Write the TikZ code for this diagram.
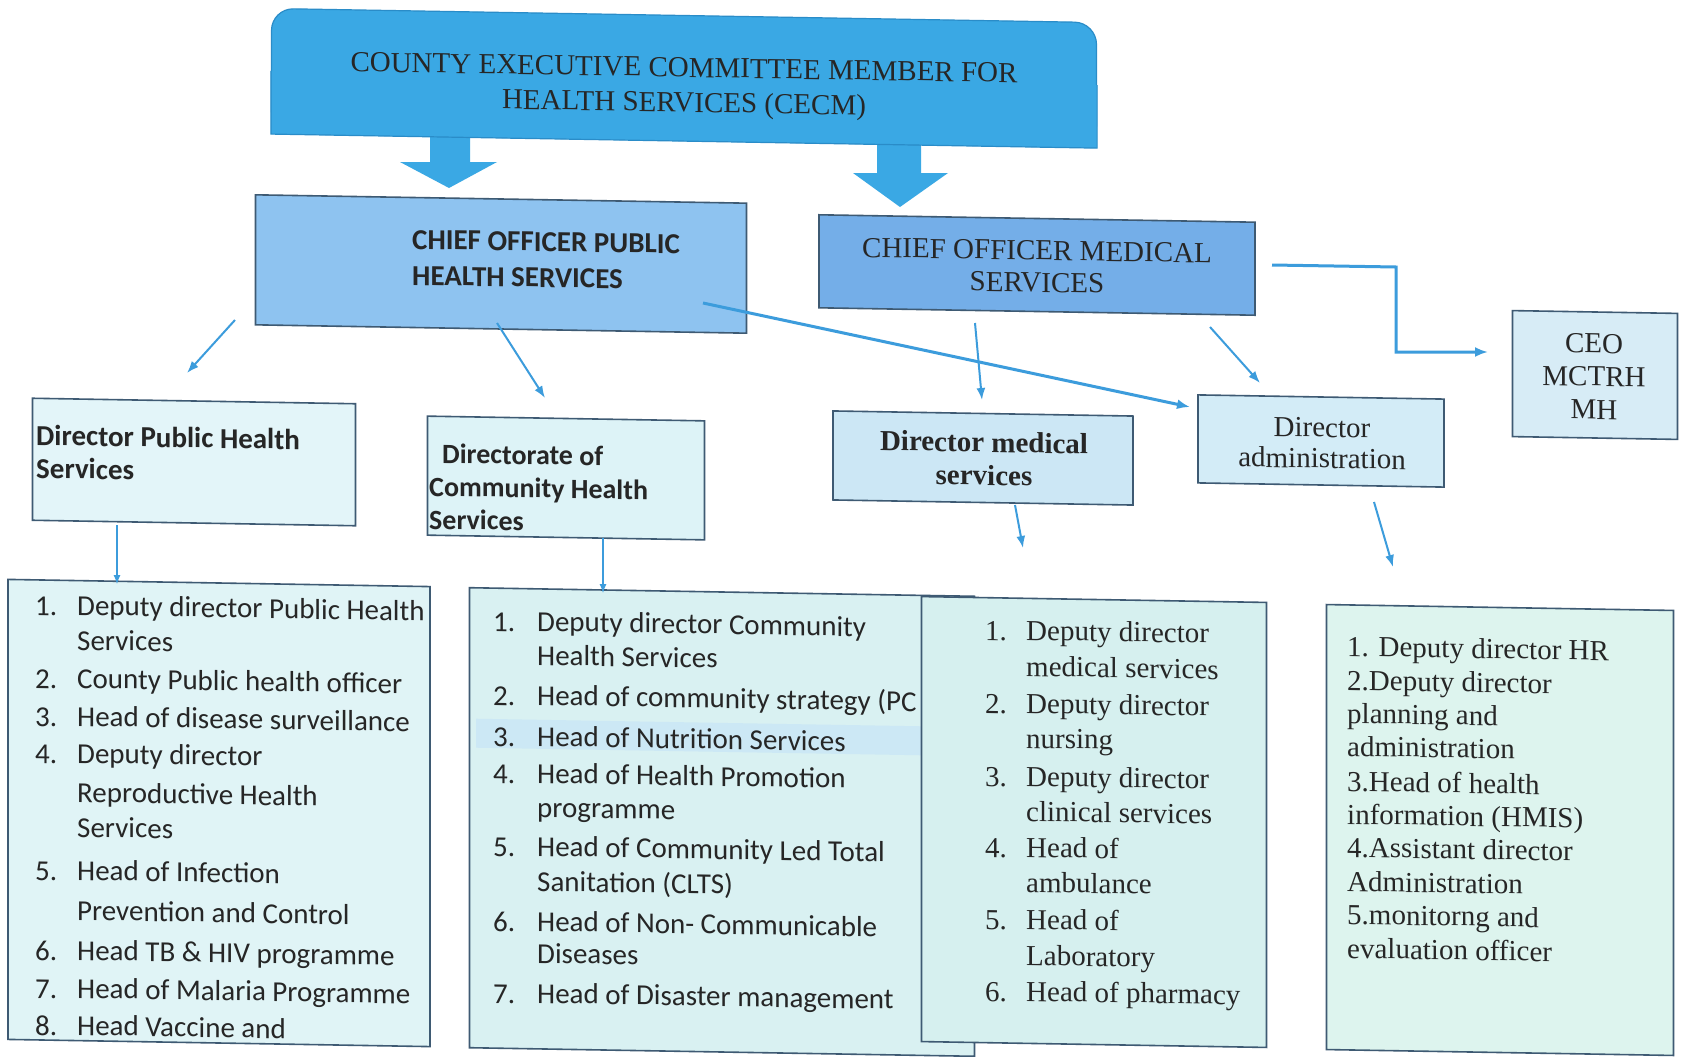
\documentclass[tikz,border=0pt]{standalone}
\usepackage{fontspec}
\setmainfont{Liberation Serif}
\newfontfamily\calib{Carlito}
\usetikzlibrary{arrows.meta}
\definecolor{cecmC}{HTML}{3AA8E4}
\definecolor{cecmD}{HTML}{2A8CC8}
\definecolor{phsC}{HTML}{8EC3F0}
\definecolor{msC}{HTML}{74AEE8}
\definecolor{ceoC}{HTML}{D7ECF6}
\definecolor{dphsC}{HTML}{E3F5F9}
\definecolor{dchsC}{HTML}{DDF3F7}
\definecolor{dmsC}{HTML}{CCE7F5}
\definecolor{dadC}{HTML}{D3ECF7}
\definecolor{laC}{HTML}{E0F4F6}
\definecolor{lbC}{HTML}{D9F1F2}
\definecolor{lcC}{HTML}{D6F0EF}
\definecolor{ldC}{HTML}{DDF4EE}
\definecolor{hlC}{HTML}{CCE8F5}
\definecolor{edgeC}{HTML}{3E5A73}
\definecolor{inkC}{HTML}{262626}
\definecolor{linkC}{HTML}{3C9CDC}
\begin{document}
\begin{tikzpicture}[x=1pt,y=-1pt,
  tilt/.style={yslant=-0.017},
  box/.style={draw=edgeC,line width=1.6pt,inner sep=0pt,tilt},
  ln/.style={inner sep=0pt,text=inkC,tilt},
  cal/.style={font=\calib\fontsize{29}{35}\selectfont},
  calb/.style={font=\calib\bfseries\fontsize{29}{35}\selectfont},
  tms/.style={font=\fontsize{29}{35}\selectfont},
  tmsb/.style={font=\bfseries\fontsize{29}{35}\selectfont},
  lnk/.style={draw=linkC,line width=2pt,-{Latex[length=12pt,width=9pt]}},
  lnkthick/.style={draw=linkC,line width=3pt,-{Latex[length=13pt,width=10pt]}},
  lnkthin/.style={draw=linkC,line width=1.1pt,-{Latex[length=9pt,width=7pt]}}]
\fill[white] (0,0) rectangle (1686,1057);
\useasboundingbox (0,0) rectangle (1686,1057);

% block arrows from CECM
\fill[cecmC] (430,120) -- (430,162) -- (400,162) -- (449,188) -- (497,162) -- (470,162) -- (470,120) -- cycle;
\fill[cecmC] (877,120) -- (877,173) -- (853,173) -- (900,207) -- (948,173) -- (921,173) -- (921,120) -- cycle;

% CECM box (rounded top corners)
\node[inner sep=0pt,tilt,minimum width=825pt,minimum height=125pt,fill=cecmC,draw=cecmD,line width=1.2pt,rounded corners=22pt] (cecm) at (684,78) {};
\fill[cecmC] (cecm.west) -- (cecm.east) -- (cecm.south east) -- (cecm.south west) -- cycle;
\draw[cecmD,line width=1.2pt] (cecm.east) -- (cecm.south east) -- (cecm.south west) -- (cecm.west);
\node[ln,tms,anchor=base] (cecmT1) at (684,77) {COUNTY EXECUTIVE COMMITTEE MEMBER FOR};
\node[ln,tms,anchor=base] (cecmT2) at (684,112) {HEALTH SERVICES (CECM)};

% Chief officer public health
\node[box,fill=phsC,minimum width=491pt,minimum height=130pt] (cophs) at (501,264) {};
\node[ln,calb,anchor=base west] (cophsT1) at (412,249) {CHIEF OFFICER PUBLIC};
\node[ln,calb,anchor=base west] (cophsT2) at (412,285) {HEALTH SERVICES};

% Chief officer medical
\node[box,fill=msC,minimum width=436pt,minimum height=93pt] (coms) at (1037,265) {};
\node[ln,tms,anchor=base] (comsT1) at (1037,260) {CHIEF OFFICER MEDICAL};
\node[ln,tms,anchor=base] (comsT2) at (1037,292) {SERVICES};

% CEO
\node[box,fill=ceoC,minimum width=165pt,minimum height=126pt] (ceo) at (1595,375) {};
\node[ln,tms,anchor=base] (ceoT1) at (1594,353) {CEO};
\node[ln,tms,anchor=base] (ceoT2) at (1594,386) {MCTRH};
\node[ln,tms,anchor=base] (ceoT3) at (1594,419) {MH};

% Director public health services
\node[box,fill=dphsC,minimum width=323pt,minimum height=122pt] (dphs) at (194,462) {};
\node[ln,calb,anchor=base west] (dphsT1) at (36,445) {Director Public Health};
\node[ln,calb,anchor=base west] (dphsT2) at (36,478) {Services};

% Directorate of community health services
\node[box,fill=dchsC,minimum width=277pt,minimum height=119pt] (dchs) at (566,478) {};
\node[ln,calb,anchor=base west,font=\calib\bfseries\fontsize{28}{34}\selectfont] (dchsT1) at (442,463) {Directorate of};
\node[ln,calb,anchor=base west,font=\calib\bfseries\fontsize{28}{34}\selectfont] (dchsT2) at (429,496) {Community Health};
\node[ln,calb,anchor=base west,font=\calib\bfseries\fontsize{28}{34}\selectfont] (dchsT3) at (429,529) {Services};

% Director medical services
\node[box,fill=dmsC,minimum width=300pt,minimum height=89pt] (dms) at (983,458) {};
\node[ln,tmsb,anchor=base] (dmsT1) at (984,452) {Director medical};
\node[ln,tmsb,anchor=base] (dmsT2) at (984,485) {services};

% Director administration
\node[box,fill=dadC,minimum width=246pt,minimum height=88pt] (dad) at (1321,441) {};
\node[ln,tms,anchor=base] (dadT1) at (1322,437) {Director};
\node[ln,tms,anchor=base] (dadT2) at (1322,468) {administration};

% List 1
\node[box,fill=laC,minimum width=422pt,minimum height=460pt] (la) at (219,813) {};
\foreach \t/\y [count=\i] in {Deputy director Public Health/615,Services/650,County Public health officer/688,Head of disease surveillance/726,Deputy director/763,Reproductive Health/802,Services/837,Head of Infection/880,Prevention and Control/920,Head TB \& HIV programme/960,Head of Malaria Programme/998,Head Vaccine and/1035}
  \node[ln,cal,anchor=base west] (laT\i) at (77,\y) {\t};
\foreach \n/\y in {1./615,2./688,3./726,4./763,5./880,6./960,7./998,8./1035}
  \node[ln,cal,anchor=base west] (laN\n) at (35,\y) {\n};

% List 2
\node[box,fill=lbC,minimum width=505pt,minimum height=460pt] (lb) at (722,822) {};
\node[fill=hlC,inner sep=0pt,tilt,minimum width=446pt,minimum height=29pt] (hl) at (699,737) {};
\foreach \t/\y [count=\i] in {Deputy director Community/631,Health Services/665,Head of community strategy (PC/705,Head of Nutrition Services/746,Head of Health Promotion/783,programme/817,Head of Community Led Total/856,Sanitation (CLTS)/891,Head of Non- Communicable/931,Diseases/963,Head of Disaster management/1003}
  \node[ln,cal,anchor=base west] (lbT\i) at (537,\y) {\t};
\foreach \n/\y in {1./631,2./705,3./746,4./783,5./856,6./931,7./1003}
  \node[ln,cal,anchor=base west] (lbN\n) at (493,\y) {\n};

% List 3
\node[box,fill=lcC,minimum width=345pt,minimum height=445pt] (lc) at (1094,822) {};
\foreach \t/\y [count=\i] in {Deputy director/640,medical services/676,Deputy director/713,nursing/748,Deputy director/786,clinical services/821,Head of/857,ambulance/892,Head of/929,Laboratory/965,Head of pharmacy/1001}
  \node[ln,tms,anchor=base west] (lcT\i) at (1026,\y) {\t};
\foreach \n/\y in {1./640,2./713,3./786,4./857,5./929,6./1001}
  \node[ln,tms,anchor=base west] (lcN\n) at (985,\y) {\n};

% List 4
\node[box,fill=ldC,minimum width=347pt,minimum height=445pt] (ld) at (1500,830) {};
\foreach \t/\y [count=\i] in {1. Deputy director HR/656,2.Deputy director/690,planning and/723,administration/756,3.Head of health/791,information (HMIS)/824,4.Assistant director/857,Administration/891,5.monitorng and/924,evaluation officer/958}
  \node[ln,tms,anchor=base west] (ldT\i) at (1347,\y) {\t};

% connectors
\coordinate (a1) at (235,320); \coordinate (a2) at (187,373);
\coordinate (b1) at (497,323); \coordinate (b2) at (545,398);
\coordinate (c1) at (703,303); \coordinate (c2) at (1190,407);
\coordinate (d1) at (975,323); \coordinate (d2) at (982,400);
\coordinate (e1) at (1210,327); \coordinate (e2) at (1260,383);
\coordinate (f1) at (1272,265); \coordinate (f2) at (1396,267); \coordinate (f3) at (1396,352); \coordinate (f4) at (1488,352);
\coordinate (g1) at (117,525); \coordinate (g2) at (117,584);
\coordinate (h1) at (603,538); \coordinate (h2) at (603,593);
\coordinate (i1) at (1015,505); \coordinate (i2) at (1023,548);
\coordinate (j1) at (1374,502); \coordinate (j2) at (1393,567);
\draw[lnk] (a1) -- (a2);
\draw[lnk] (b1) -- (b2);
\draw[lnkthick] (c1) -- (c2);
\draw[lnk] (d1) -- (d2);
\draw[lnk] (e1) -- (e2);
\draw[lnkthick] (f1) -- (f2) -- (f3) -- (f4);
\draw[lnkthin] (g1) -- (g2);
\draw[lnkthin] (h1) -- (h2);
\draw[lnk] (i1) -- (i2);
\draw[lnk] (j1) -- (j2);
\end{tikzpicture}
\end{document}
